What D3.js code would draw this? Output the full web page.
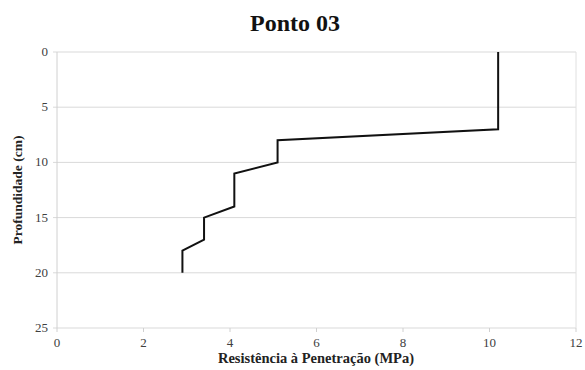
<!DOCTYPE html>
<html>
<head>
<meta charset="utf-8">
<script src="https://cdn.jsdelivr.net/npm/d3@7"></script>
<style>
  body { margin: 0; background: #fff; }
</style>
</head>
<body>
<div id="chart"></div>
<script>
// profile data, depth (cm) vs resistance (MPa)
var depth = [0, 7, 8, 10, 11, 14, 15, 17, 18, 20];
var resistance = [10.2, 10.2, 5.1, 5.1, 4.1, 4.1, 3.4, 3.4, 2.9, 2.9];
var xTicks = [0, 2, 4, 6, 8, 10, 12];
var yTicks = [0, 5, 10, 15, 20, 25];

var width = 585, height = 370;
var margin = {top: 52, right: 9, bottom: 42, left: 57};

var svg = d3.select("#chart").append("svg")
    .attr("width", width)
    .attr("height", height)
    .attr("font-family", "'Liberation Serif', 'Times New Roman', serif");

var x = d3.scaleLinear().domain([0, 12]).range([margin.left, width - margin.right]);
var y = d3.scaleLinear().domain([0, 25]).range([margin.top, height - margin.bottom]);

// gridlines
svg.append("g").selectAll("line")
    .data(yTicks)
    .join("line")
    .attr("x1", x(0) - 4)
    .attr("x2", x(12))
    .attr("y1", function(d) { return y(d); })
    .attr("y2", function(d) { return y(d); })
    .attr("stroke", "#d9d9d9")
    .attr("stroke-width", 1);

// left + right frame
svg.append("line")
    .attr("x1", x(0)).attr("x2", x(0))
    .attr("y1", y(0)).attr("y2", y(25))
    .attr("stroke", "#d0d0d0");
svg.append("line")
    .attr("x1", x(12)).attr("x2", x(12))
    .attr("y1", y(0)).attr("y2", y(25))
    .attr("stroke", "#e0e0e0");

// x ticks
svg.append("g").selectAll("line")
    .data(xTicks)
    .join("line")
    .attr("x1", function(d) { return x(d); })
    .attr("x2", function(d) { return x(d); })
    .attr("y1", y(25))
    .attr("y2", y(25) + 4)
    .attr("stroke", "#d0d0d0");

svg.append("g").selectAll("text")
    .data(xTicks)
    .join("text")
    .attr("x", function(d) { return x(d); })
    .attr("y", y(25) + 19)
    .attr("text-anchor", "middle")
    .attr("font-size", 13)
    .attr("fill", "#404040")
    .text(function(d) { return d; });

svg.append("g").selectAll("text")
    .data(yTicks)
    .join("text")
    .attr("x", x(0) - 9)
    .attr("y", function(d) { return y(d) + 4; })
    .attr("text-anchor", "end")
    .attr("font-size", 13)
    .attr("fill", "#404040")
    .text(function(d) { return d; });

// the profile
var line = d3.line()
    .x(function(d, i) { return x(resistance[i]); })
    .y(function(d) { return y(d); });

svg.append("path")
    .datum(depth)
    .attr("d", line)
    .attr("fill", "none")
    .attr("stroke", "#111")
    .attr("stroke-width", 2);

// titles
svg.append("text")
    .attr("x", 295)
    .attr("y", 31)
    .attr("text-anchor", "middle")
    .attr("font-size", 24)
    .attr("font-weight", "bold")
    .attr("fill", "#111")
    .text("Ponto 03");

svg.append("text")
    .attr("x", 316)
    .attr("y", 363)
    .attr("text-anchor", "middle")
    .attr("font-size", 14.5)
    .attr("font-weight", "bold")
    .attr("fill", "#222")
    .text("Resistência à Penetração (MPa)");

svg.append("text")
    .attr("transform", "translate(22,190) rotate(-90)")
    .attr("text-anchor", "middle")
    .attr("font-size", 13.5)
    .attr("font-weight", "bold")
    .attr("fill", "#222")
    .text("Profundidade (cm)");
</script>
</body>
</html>
